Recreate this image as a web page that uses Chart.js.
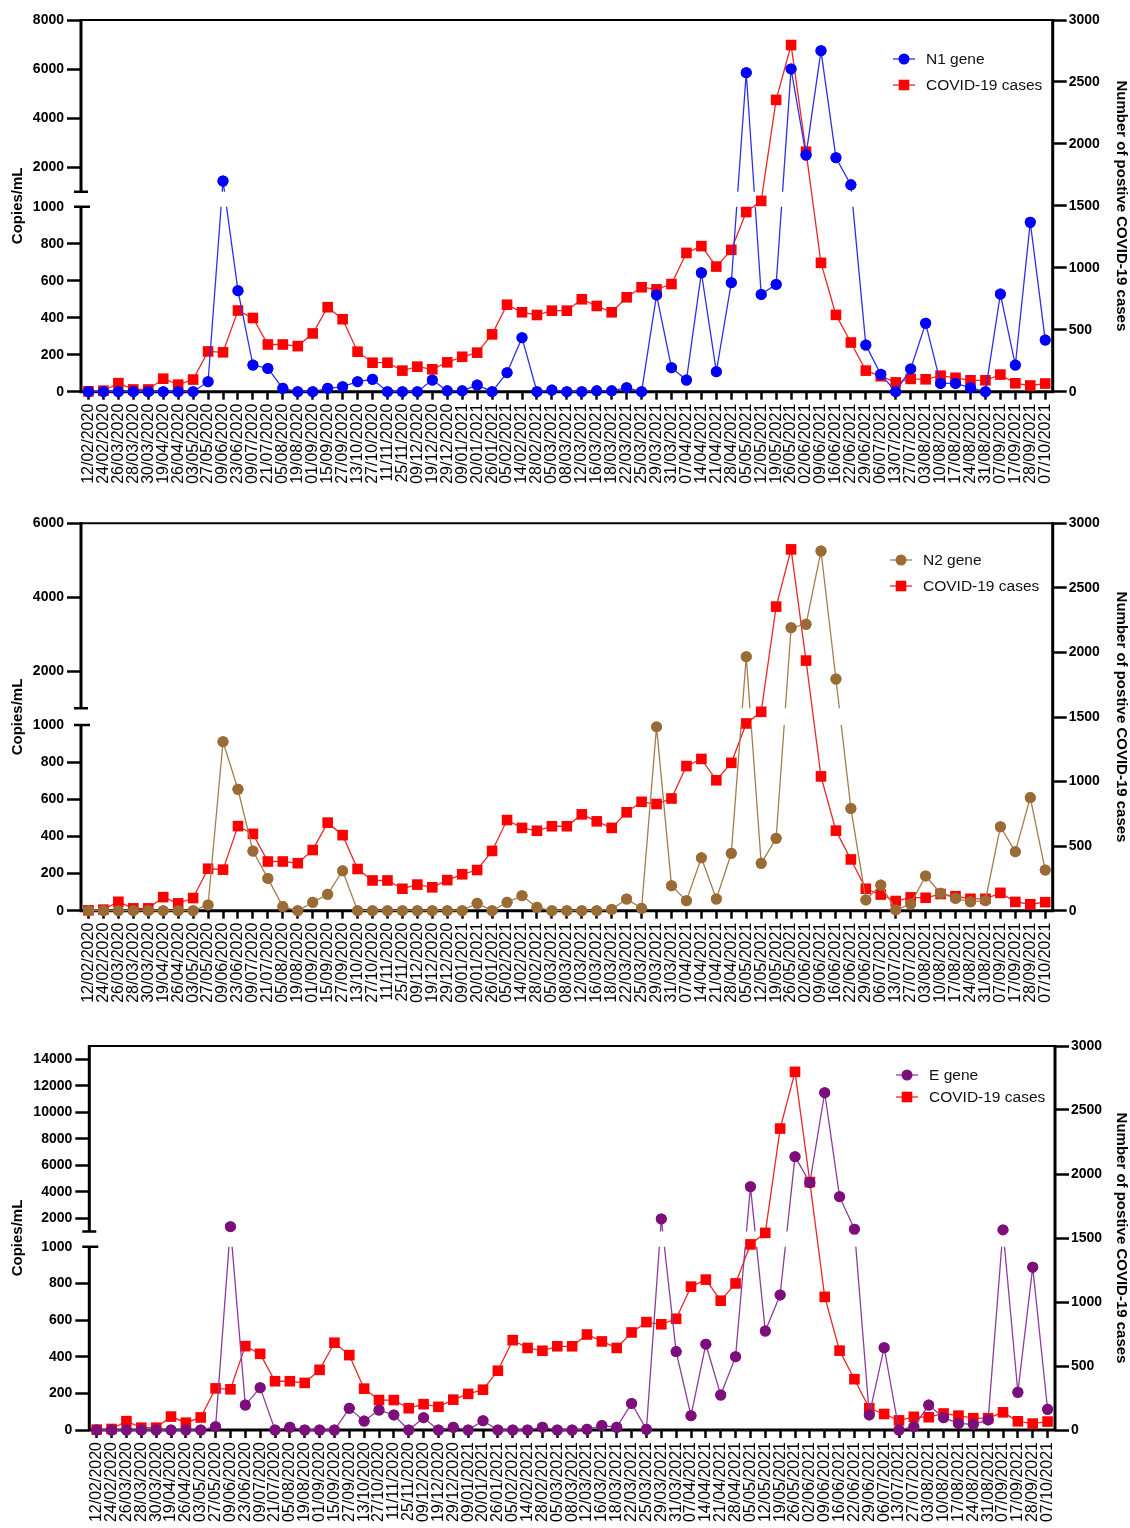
<!DOCTYPE html>
<html>
<head>
<meta charset="utf-8">
<script src="https://cdn.jsdelivr.net/npm/chart.js@4.4.1/dist/chart.umd.min.js"></script>
<style>
  html, body { margin: 0; padding: 0; background: #fff; }
  body { width: 1130px; height: 1528px; position: relative; overflow: hidden; }
  canvas { position: absolute; left: 0; }
</style>
</head>
<body>
<canvas id="c1" width="1130" height="505" style="top:0px"></canvas>
<canvas id="c2" width="1130" height="515" style="top:505px"></canvas>
<canvas id="c3" width="1130" height="508" style="top:1020px"></canvas>
<script>
// sampling dates (x axis)
const dates = [
  '12/02/2020', '24/02/2020', '26/03/2020', '28/03/2020', '30/03/2020', '19/04/2020', '26/04/2020', '03/05/2020',
  '27/05/2020', '09/06/2020', '23/06/2020', '09/07/2020', '21/07/2020', '05/08/2020', '19/08/2020', '01/09/2020',
  '15/09/2020', '27/09/2020', '13/10/2020', '27/10/2020', '11/11/2020', '25/11/2020', '09/12/2020', '19/12/2020',
  '29/12/2020', '09/01/2021', '20/01/2021', '26/01/2021', '05/02/2021', '14/02/2021', '28/02/2021', '05/03/2021',
  '08/03/2021', '12/03/2021', '16/03/2021', '18/03/2021', '22/03/2021', '25/03/2021', '29/03/2021', '31/03/2021',
  '07/04/2021', '14/04/2021', '21/04/2021', '28/04/2021', '05/05/2021', '12/05/2021', '19/05/2021', '26/05/2021',
  '02/06/2021', '09/06/2021', '16/06/2021', '22/06/2021', '29/06/2021', '06/07/2021', '13/07/2021', '27/07/2021',
  '03/08/2021', '10/08/2021', '17/08/2021', '24/08/2021', '31/08/2021', '07/09/2021', '17/09/2021', '28/09/2021',
  '07/10/2021'
];

// number of positive COVID-19 cases (right axis)
const covidCases = [
  3, 8, 69, 18, 18, 105, 57, 98, 325, 318, 655, 595, 381, 381, 368, 470,
  682, 585, 323, 234, 234, 170, 202, 181, 237, 282, 315, 463, 702, 641, 619, 654,
  654, 746, 692, 641, 762, 843, 826, 869, 1120, 1175, 1010, 1145, 1450, 1540, 2355, 2798,
  1937, 1040, 620, 397, 170, 125, 75, 103, 100, 129, 112, 92, 92, 138, 68, 50,
  66
];

// copies/mL per gene (left axis)
const n1Gene = [
  0, 0, 0, 0, 0, 0, 0, 0, 54, 1436, 546, 144, 126, 18, 0, 0,
  18, 27, 54, 67, 0, 0, 0, 63, 5, 5, 36, 0, 103, 292, 0, 9,
  0, 0, 5, 5, 22, 0, 523, 130, 63, 643, 108, 589, 5852, 526, 580, 6003,
  2496, 6749, 2386, 1280, 252, 94, 0, 123, 370, 45, 45, 22, 0, 528, 144, 916,
  279
];
const n2Gene = [
  0, 0, 0, 0, 0, 0, 0, 0, 31, 910, 654, 321, 174, 22, 0, 45,
  88, 215, 0, 0, 0, 0, 0, 0, 0, 0, 40, 0, 45, 81, 18, 0,
  0, 0, 0, 7, 63, 13, 991, 135, 54, 285, 63, 309, 2395, 255, 390, 3178,
  3270, 5251, 1792, 551, 58, 138, 4, 36, 187, 94, 67, 48, 54, 452, 318, 609,
  219
];
const eGene = [
  0, 0, 0, 0, 0, 0, 0, 0, 18, 1366, 136, 231, 0, 15, 0, 0,
  0, 118, 49, 109, 82, 0, 67, 0, 15, 0, 51, 0, 0, 0, 15, 0,
  0, 4, 24, 15, 145, 4, 1945, 428, 78, 468, 191, 400, 4385, 540, 737, 6649,
  4687, 11479, 3630, 1170, 82, 449, 0, 18, 136, 67, 36, 31, 55, 1117, 206, 888,
  113
];

// tick labels
const n1Ticks = [0, 200, 400, 600, 800, 1000, 2000, 4000, 6000, 8000];
const n2Ticks = [0, 200, 400, 600, 800, 1000, 2000, 4000, 6000];
const eTicks = [0, 200, 400, 600, 800, 1000, 2000, 4000, 6000, 8000, 10000, 12000, 14000];
const caseTicks = [0, 500, 1000, 1500, 2000, 2500, 3000];

Chart.defaults.font.family = '"Liberation Sans", Arial, Helvetica, sans-serif';
Chart.defaults.color = '#000';

const panels = [
  { id: 'c1', canvasTop: 0, canvasH: 505, areaTop: 20, areaBottom: 391.7, leftW: 81, rightW: 77.3,
    lowH: 185, gapH: 15, upMax: 8000, genes: n1Gene, ticks: n1Ticks, label: 'N1 gene',
    color: '#0000ff', line: '#2f2fe6', legend: { x: 893, y1: 59, y2: 85 } },
  { id: 'c2', canvasTop: 505, canvasH: 515, areaTop: 523.3, areaBottom: 910.7, leftW: 81, rightW: 77.3,
    lowH: 185.7, gapH: 16.7, upMax: 6000, genes: n2Gene, ticks: n2Ticks, label: 'N2 gene',
    color: '#9b6b36', line: '#a47d4e', legend: { x: 890, y1: 560, y2: 586 } },
  { id: 'c3', canvasTop: 1020, canvasH: 508, areaTop: 1046, areaBottom: 1430, leftW: 89.3, rightW: 75,
    lowH: 183.3, gapH: 15.2, upMax: 15000, genes: eGene, ticks: eTicks, label: 'E gene',
    color: '#7d0f7d', line: '#8c3c9c', legend: { x: 896, y1: 1075, y2: 1097 } }
];

const RED = '#ff0000';
const RED_LINE = '#e8282a';

function makePanel(p) {
  const total = p.areaBottom - p.areaTop;
  const upH = total - p.lowH - p.gapH;
  // broken axis: 0-1000 on the lower part, 1000-upMax on the upper part
  const tf = v => v <= 1000 ? v / 1000 * p.lowH : p.lowH + p.gapH + (v - 1000) / (p.upMax - 1000) * upH;

  const breakPlugin = {
    id: 'brokenAxis',
    beforeDatasetsDraw(chart) {
      const { ctx, chartArea: a, scales } = chart;
      const gTop = scales.y.getPixelForValue(p.lowH + p.gapH);
      const gBot = scales.y.getPixelForValue(p.lowH);
      ctx.save();
      ctx.strokeStyle = '#000';
      ctx.lineCap = 'butt';
      ctx.lineWidth = 2;
      ctx.beginPath();
      ctx.moveTo(a.left, a.top);
      ctx.lineTo(a.right, a.top);
      ctx.stroke();
      ctx.lineWidth = 3;
      ctx.beginPath();
      ctx.moveTo(a.left, a.top - 1);
      ctx.lineTo(a.left, gTop);
      ctx.moveTo(a.left, gBot);
      ctx.lineTo(a.left, a.bottom + 1.5);
      ctx.moveTo(a.right, a.top - 1);
      ctx.lineTo(a.right, a.bottom + 1.5);
      ctx.moveTo(a.left, a.bottom);
      ctx.lineTo(a.right, a.bottom);
      ctx.stroke();
      ctx.lineWidth = 2.5;
      ctx.beginPath();
      ctx.moveTo(a.left - 7, gTop);
      ctx.lineTo(a.left + 7, gTop);
      ctx.moveTo(a.left - 7, gBot);
      ctx.lineTo(a.left + 9, gBot);
      ctx.stroke();
      ctx.restore();
    },
    // the gene line is interrupted across the axis break
    beforeDatasetDraw(chart, args) {
      if (args.index !== 0) return;
      const { ctx, width, height, scales } = chart;
      const gTop = scales.y.getPixelForValue(p.lowH + p.gapH);
      const gBot = scales.y.getPixelForValue(p.lowH);
      ctx.save();
      ctx.beginPath();
      ctx.rect(0, 0, width, gTop);
      ctx.rect(0, gBot, width, height - gBot);
      ctx.clip();
    },
    afterDatasetDraw(chart, args) {
      if (args.index !== 0) return;
      chart.ctx.restore();
      // markers themselves are never cut by the break
      for (const pt of args.meta.data) pt.draw(chart.ctx);
    },
    afterDraw(chart) {
      const ctx = chart.ctx;
      const lx = p.legend.x;
      const rows = [
        { y: p.legend.y1 - p.canvasTop, text: p.label, fill: p.color, line: p.line, shape: 'circle' },
        { y: p.legend.y2 - p.canvasTop, text: 'COVID-19 cases', fill: RED, line: RED_LINE, shape: 'rect' }
      ];
      ctx.save();
      for (const r of rows) {
        ctx.strokeStyle = r.line;
        ctx.lineWidth = 1.3;
        ctx.beginPath();
        ctx.moveTo(lx, r.y);
        ctx.lineTo(lx + 22, r.y);
        ctx.stroke();
        ctx.fillStyle = r.fill;
        ctx.beginPath();
        if (r.shape === 'circle') ctx.arc(lx + 11, r.y, 5.5, 0, Math.PI * 2);
        else ctx.rect(lx + 11 - 5.3, r.y - 5.3, 10.6, 10.6);
        ctx.fill();
        ctx.fillStyle = '#111';
        ctx.font = '15.5px "Liberation Sans", Arial, sans-serif';
        ctx.textBaseline = 'middle';
        ctx.textAlign = 'left';
        ctx.fillText(r.text, lx + 33, r.y + 1);
      }
      ctx.restore();
    }
  };

  return new Chart(document.getElementById(p.id), {
    type: 'line',
    data: {
      labels: dates,
      datasets: [
        {
          label: p.label,
          data: p.genes.map(tf),
          yAxisID: 'y',
          borderColor: p.line,
          backgroundColor: p.color,
          pointBackgroundColor: p.color,
          pointBorderColor: p.color,
          pointBorderWidth: 0,
          pointStyle: 'circle',
          pointRadius: 5.5,
          borderWidth: 1.3,
          tension: 0,
          clip: false
        },
        {
          label: 'COVID-19 cases',
          data: covidCases,
          yAxisID: 'y2',
          borderColor: RED_LINE,
          backgroundColor: RED,
          pointBackgroundColor: RED,
          pointBorderColor: RED,
          pointBorderWidth: 0,
          pointStyle: 'rect',
          pointRadius: 7.5,
          borderWidth: 1.3,
          tension: 0,
          clip: false
        }
      ]
    },
    options: {
      responsive: false,
      animation: false,
      events: [],
      layout: { padding: { top: p.areaTop - p.canvasTop, left: 0, right: 0, bottom: 0 } },
      plugins: { legend: { display: false }, tooltip: { enabled: false } },
      scales: {
        x: {
          type: 'category',
          offset: true,
          afterFit: s => { s.height = p.canvasH - (p.areaBottom - p.canvasTop); },
          grid: { drawOnChartArea: false, offset: false, tickLength: 8, tickWidth: 2.5, tickColor: '#000' },
          border: { display: false },
          ticks: { autoSkip: false, minRotation: 90, maxRotation: 90, padding: 4,
                   font: { size: 16 }, color: '#000' }
        },
        y: {
          type: 'linear',
          position: 'left',
          min: 0,
          max: total,
          afterFit: s => { s.width = p.leftW; },
          afterBuildTicks: s => { s.ticks = p.ticks.map(v => ({ value: tf(v) })); },
          grid: {
            drawOnChartArea: false, tickLength: 14, tickWidth: 2.5,
            tickColor: c => (c.tick && Math.abs(c.tick.value - p.lowH) < 0.01) ? 'rgba(0,0,0,0)' : '#000'
          },
          border: { display: false },
          ticks: { autoSkip: false, padding: 3, font: { size: 14, weight: 'bold' }, color: '#000',
                   callback: (v, i) => String(p.ticks[i]) },
          title: { display: true, text: 'Copies/mL', font: { size: 15, weight: 'bold' }, color: '#000',
                   padding: { top: 9, bottom: 0 } }
        },
        y2: {
          type: 'linear',
          position: 'right',
          min: 0,
          max: 3000,
          afterFit: s => { s.width = p.rightW; },
          afterBuildTicks: s => { s.ticks = caseTicks.map(v => ({ value: v })); },
          grid: { drawOnChartArea: false, tickLength: 14, tickWidth: 2.5, tickColor: '#000' },
          border: { display: false },
          ticks: { autoSkip: false, padding: 2, font: { size: 14, weight: 'bold' }, color: '#000',
                   callback: (v, i) => String(caseTicks[i]) },
          title: { display: true, text: 'Number of postive COVID-19 cases', font: { size: 15, weight: 'bold' },
                   color: '#000', padding: { top: 0, bottom: 0 } }
        }
      }
    },
    plugins: [breakPlugin]
  });
}

panels.forEach(makePanel);
</script>
</body>
</html>
